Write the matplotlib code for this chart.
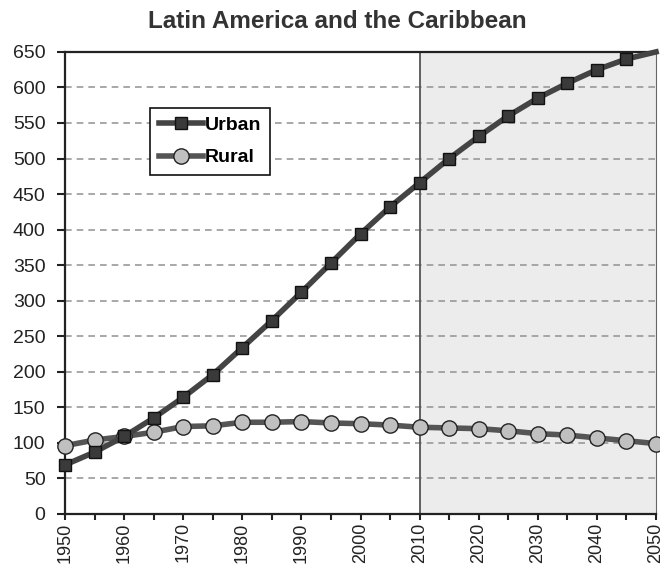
import numpy as np
import matplotlib.pyplot as plt

plt.rcParams['font.family'] = ['Liberation Sans', 'DejaVu Sans']

# population in millions
years = [1950, 1955, 1960, 1965, 1970, 1975, 1980, 1985, 1990, 1995, 2000,
         2005, 2010, 2015, 2020, 2025, 2030, 2035, 2040, 2045, 2050]
urban = [69, 87, 109, 135, 164, 196, 234, 272, 312, 353, 394,
         432, 466, 500, 531, 560, 585, 606, 625, 640, 650]
rural = [96, 104, 109, 115, 123, 124, 129, 129, 130, 128, 127,
         125, 122, 121, 120, 117, 113, 111, 107, 103, 99]
projection_start = 2010

fig = plt.figure(figsize=(6.6, 5.64), dpi=100)
ax = fig.add_axes([0.0985, 0.0887, 0.8955, 0.8193])

ax.axvspan(projection_start, 2050, color='#ececec', zorder=0)
for y in range(50, 650, 50):
    ax.axhline(y, color='#999999', ls=(0, (4, 3)), lw=1.2, zorder=1)
ax.axvline(projection_start, color='#555555', lw=1.3, zorder=2)

ax.plot(years, urban, color='#444444', lw=4, marker='s', ms=9,
        markevery=list(range(len(years) - 1)),
        mfc='#3a3a3a', mec='#111111', mew=1, label='Urban', zorder=4, clip_on=False)
ax.plot(years, rural, color='#555555', lw=4, marker='o', ms=11,
        mfc='#c0c0c0', mec='#222222', mew=1, label='Rural', zorder=3, clip_on=False)

ax.set_xlim(1950, 2050)
ax.set_ylim(0, 650)
ax.set_yticks(range(0, 651, 50))
ax.set_xticks(range(1950, 2051, 10))
ax.set_xticks(range(1955, 2050, 10), minor=True)
ax.tick_params(axis='x', which='both', direction='out', length=4.5, width=1.5,
               labelrotation=90, labelsize=13, colors='#222222', pad=1.5)
ax.tick_params(axis='y', direction='out', length=5.5, width=1.5, labelsize=14,
               colors='#222222', pad=8.5)

for s in ['left', 'bottom', 'top']:
    ax.spines[s].set_linewidth(1.6)
    ax.spines[s].set_color('#222222')
ax.spines['right'].set_color('#666666')

fig.text(0.511, 0.961, 'Latin America and the Caribbean', fontsize=17.5,
         fontweight='bold', color='#333333', ha='center', va='center')

leg = ax.legend(loc='upper left', bbox_to_anchor=(0.1438, 0.879), fancybox=False,
                edgecolor='#111111', framealpha=1, fontsize=14, handlelength=2.3,
                handletextpad=0.05, borderpad=0.45, labelspacing=0.75,
                borderaxespad=0)
leg.get_frame().set_linewidth(1.2)
for t in leg.get_texts():
    t.set_fontweight('bold')

fig.savefig('out.png', dpi=100)
